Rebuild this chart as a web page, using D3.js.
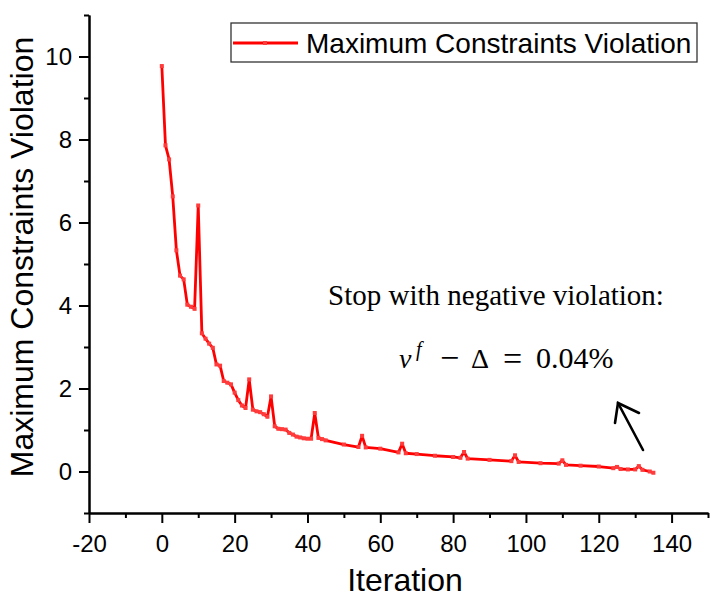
<!DOCTYPE html>
<html>
<head>
<meta charset="utf-8">
<script src="https://cdn.jsdelivr.net/npm/d3@7"></script>
<style>
  body { margin: 0; background: #fff; }
  svg { display: block; }
</style>
</head>
<body>
<div id="chart"></div>
<script>
//////////////////////////////////////////////////////////////////////////////
// Data

var iterations = [0, 1, 2, 3, 4, 5, 6, 7, 8, 9, 10, 11, 12, 13, 14, 15, 16, 17, 18, 19,
                  20, 21, 22, 23, 24, 25, 26, 27, 28, 29, 30, 31, 32, 33, 34, 35, 36, 37, 38, 39,
                  40, 41, 42, 43, 44, 45, 50, 54, 55, 56, 60, 65, 66, 67, 70, 75, 80, 82, 83, 84,
                  90, 96, 97, 98, 104, 109, 110, 111, 115, 120, 124, 125, 126, 128, 130, 131, 132, 134, 135];
var violation = [9.77, 7.86, 7.52, 6.63, 5.33, 4.72, 4.63, 4.02, 3.97, 3.92, 6.41, 3.33, 3.20, 3.08, 2.98, 2.58, 2.55, 2.18, 2.14, 2.10,
                 1.90, 1.72, 1.59, 1.53, 2.22, 1.49, 1.45, 1.43, 1.38, 1.32, 1.81, 1.09, 1.03, 1.02, 1.01, 0.93, 0.89, 0.84, 0.82, 0.80,
                 0.79, 0.79, 1.41, 0.81, 0.78, 0.75, 0.65, 0.59, 0.86, 0.58, 0.55, 0.46, 0.67, 0.44, 0.42, 0.38, 0.35, 0.33, 0.47, 0.31,
                 0.28, 0.25, 0.39, 0.23, 0.20, 0.19, 0.27, 0.16, 0.14, 0.12, 0.08, 0.11, 0.06, 0.05, 0.05, 0.13, 0.04, 0.00, -0.03];

var xMajor = [-20, 0, 20, 40, 60, 80, 100, 120, 140];
var xMinor = [-10, 10, 30, 50, 70, 90, 110, 130, 150];
var yMajor = [0, 2, 4, 6, 8, 10];
var yMinor = [-1, 1, 3, 5, 7, 9, 11];

var seriesName = "Maximum Constraints Violation";

//////////////////////////////////////////////////////////////////////////////
// Layout

var width = 725, height = 613;
var plotLeft = 89, plotRight = 708, plotTop = 15, plotBottom = 513;

var xScale = d3.scaleLinear().domain([-20, 150]).range([plotLeft, plotRight]);
var yScale = d3.scaleLinear().domain([-1, 11]).range([plotBottom, plotTop]);

var svg = d3.select("#chart")
    .append("svg")
    .attr("width", width)
    .attr("height", height);

var data = iterations.map(function(it, i) { return { x: it, y: violation[i] }; });

// plain hyphen minus like the original, not d3's U+2212
function plainNum(d) { return String(d); }

//////////////////////////////////////////////////////////////////////////////
// Axes (major + minor ticks)

function styleAxis(g) {
    g.selectAll("path.domain").attr("stroke", "#000").attr("stroke-width", 2);
    g.selectAll(".tick line").attr("stroke", "#000").attr("stroke-width", 2);
    g.selectAll("text")
        .attr("fill", "#000")
        .style("font-family", "'Liberation Sans', Arial, sans-serif")
        .style("font-size", "24px");
}

svg.append("g")
    .attr("transform", "translate(0," + plotBottom + ")")
    .call(d3.axisBottom(xScale).tickValues(xMinor).tickSize(5).tickFormat("").tickSizeOuter(0))
    .call(styleAxis);

svg.append("g")
    .attr("transform", "translate(0," + plotBottom + ")")
    .call(d3.axisBottom(xScale).tickValues(xMajor).tickSize(10).tickPadding(12)
          .tickFormat(plainNum).tickSizeOuter(0))
    .call(styleAxis);

svg.append("g")
    .attr("transform", "translate(" + plotLeft + ",0)")
    .call(d3.axisLeft(yScale).tickValues(yMinor).tickSize(5).tickFormat("").tickSizeOuter(0))
    .call(styleAxis);

svg.append("g")
    .attr("transform", "translate(" + plotLeft + ",0)")
    .call(d3.axisLeft(yScale).tickValues(yMajor).tickSize(10).tickPadding(7)
          .tickFormat(plainNum).tickSizeOuter(0))
    .call(styleAxis);

// axis titles
svg.append("text")
    .attr("x", 405)
    .attr("y", 591)
    .attr("text-anchor", "middle")
    .style("font-family", "'Liberation Sans', Arial, sans-serif")
    .style("font-size", "32px")
    .text("Iteration");

svg.append("text")
    .attr("transform", "translate(33,257) rotate(-90)")
    .attr("text-anchor", "middle")
    .style("font-family", "'Liberation Sans', Arial, sans-serif")
    .style("font-size", "32px")
    .text(seriesName);

//////////////////////////////////////////////////////////////////////////////
// Series

var line = d3.line()
    .x(function(d) { return xScale(d.x); })
    .y(function(d) { return yScale(d.y); });

svg.append("path")
    .datum(data)
    .attr("fill", "none")
    .attr("stroke", "#ff0000")
    .attr("stroke-width", 2.8)
    .attr("stroke-linejoin", "round")
    .attr("d", line);

svg.append("g")
    .selectAll("rect")
    .data(data)
    .enter()
    .append("rect")
    .attr("x", function(d) { return xScale(d.x) - 2; })
    .attr("y", function(d) { return yScale(d.y) - 2; })
    .attr("width", 4)
    .attr("height", 4)
    .attr("fill", "#ff3b3b");

//////////////////////////////////////////////////////////////////////////////
// Legend

var legend = svg.append("g");
legend.append("rect")
    .attr("x", 231).attr("y", 23)
    .attr("width", 466).attr("height", 39)
    .attr("fill", "#fff")
    .attr("stroke", "#333")
    .attr("stroke-width", 1.3);
legend.append("line")
    .attr("x1", 233).attr("x2", 298)
    .attr("y1", 43).attr("y2", 43)
    .attr("stroke", "#ff0000")
    .attr("stroke-width", 2.8);
legend.append("rect")
    .attr("x", 263).attr("y", 41)
    .attr("width", 4).attr("height", 4)
    .attr("fill", "#ff3b3b");
legend.append("text")
    .attr("x", 306).attr("y", 53)
    .style("font-family", "'Liberation Sans', Arial, sans-serif")
    .style("font-size", "28px")
    .text(seriesName);

//////////////////////////////////////////////////////////////////////////////
// Annotation

var serif = "'Liberation Serif', 'Times New Roman', serif";

svg.append("text")
    .attr("x", 496).attr("y", 305)
    .attr("text-anchor", "middle")
    .style("font-family", serif)
    .style("font-size", "29px")
    .text("Stop with negative violation:");

var math = svg.append("g").style("font-family", serif).style("font-size", "28px");
math.append("text").attr("x", 399).attr("y", 368).style("font-style", "italic").text("\u03bd");
math.append("text").attr("x", 416).attr("y", 356).style("font-style", "italic").style("font-size", "20px").text("f");
math.append("text").attr("x", 440).attr("y", 369).style("font-size", "34px").text("\u2212");
math.append("text").attr("x", 471).attr("y", 368).text("\u0394");
math.append("text").attr("x", 503).attr("y", 370).style("font-size", "34px").text("=");
math.append("text").attr("x", 536).attr("y", 368).style("font-size", "30px").text("0.04%");

// arrow
var arrow = svg.append("g")
    .attr("stroke", "#000")
    .attr("stroke-width", 2.6)
    .attr("fill", "none")
    .attr("stroke-linecap", "round");
arrow.append("line").attr("x1", 643).attr("y1", 450).attr("x2", 618).attr("y2", 403);
arrow.append("polyline").attr("points", "615,423 618,403 639,413");
</script>
</body>
</html>
